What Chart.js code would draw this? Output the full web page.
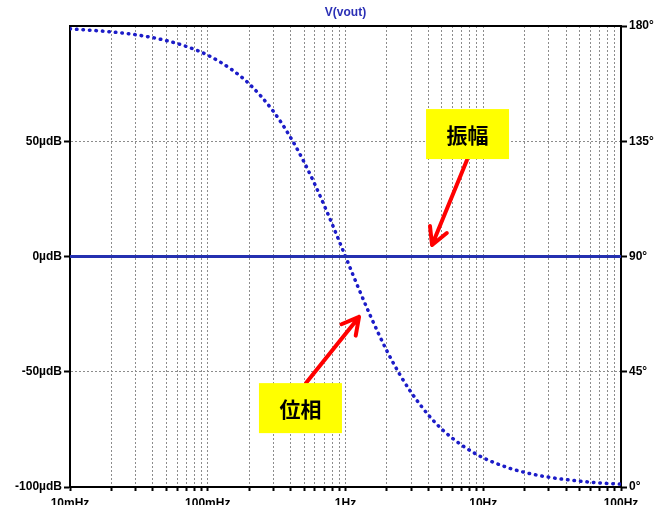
<!DOCTYPE html>
<html>
<head>
<meta charset="utf-8">
<script src="https://cdn.jsdelivr.net/npm/chart.js@4"></script>
<style>
  html, body { margin: 0; padding: 0; background: #fff; overflow: hidden; }
  #wrap { width: 670px; height: 520px; }
</style>
</head>
<body>
<div id="wrap"><canvas id="bode"></canvas></div>
<script>
// Data

const freqs = [0.01, 0.02, 0.03, 0.05, 0.07, 0.1, 0.15, 0.2, 0.3, 0.4, 0.5, 0.6, 0.7, 0.8, 0.9,
               1, 1.2, 1.5, 2, 2.5, 3, 4, 5, 7, 10, 15, 20, 30, 50, 70, 100];
const phaseDeg = [178.9, 177.7, 176.6, 174.3, 172.0, 168.6, 162.9, 157.4, 146.6, 136.4, 126.9, 118.1, 110.0, 102.7, 96.0,
                  90.0, 79.6, 67.4, 53.1, 43.6, 36.9, 28.1, 22.6, 16.3, 11.4, 7.6, 5.7, 3.8, 2.3, 1.6, 1.1];
const ampFreqs = [0.01, 100];
const ampValues = [0, 0];

const decades = [0.01, 0.1, 1, 10, 100];
const decadeLabels = ['10mHz', '100mHz', '1Hz', '10Hz', '100Hz'];
const ampTicks = [-100, -50, 0, 50];
const phaseTicks = [0, 45, 90, 135, 180];

// Annotation boxes (frequency, degrees)
const notes = [
    { text: '振幅', box: [7.69, 137.8], from: [7.62, 127.7], to: [4.25, 94.5] },
    { text: '位相', box: [0.471, 30.8], from: [0.517, 40.6], to: [1.254, 66.4] }
];

Chart.defaults.font.family = '"Liberation Sans", Arial, sans-serif';
Chart.defaults.font.size = 12;
Chart.defaults.font.weight = 'bold';
Chart.defaults.color = '#000';

const xTickValues = [];
decades.forEach((d, i) => {
    if (i === decades.length - 1) { xTickValues.push(d); return; }
    for (let m = 1; m < 10; m++) xTickValues.push(+(d * m).toPrecision(3));
});

const frame = {
    id: 'frame',
    afterDatasetsDraw(chart) {
        const { ctx, chartArea: a, scales } = chart;
        ctx.save();
        ctx.strokeStyle = '#000';
        ctx.lineWidth = 2;
        ctx.beginPath();
        ctx.moveTo(a.left - 1, a.top);
        ctx.lineTo(a.right + 1, a.top);
        ctx.stroke();

        ctx.fillStyle = '#2a2fb5';
        ctx.font = 'bold 12px "Liberation Sans", Arial, sans-serif';
        ctx.textAlign = 'center';
        ctx.textBaseline = 'middle';
        ctx.fillText('V(vout)', (a.left + a.right) / 2, 13);

        const x = scales.x, y = scales.y2;
        notes.forEach(n => {
            const x0 = x.getPixelForValue(n.from[0]), y0 = y.getPixelForValue(n.from[1]);
            const x1 = x.getPixelForValue(n.to[0]), y1 = y.getPixelForValue(n.to[1]);
            const ang = Math.atan2(y1 - y0, x1 - x0);
            ctx.strokeStyle = '#ff0000';
            ctx.lineWidth = 4;
            ctx.lineCap = 'round';
            ctx.beginPath();
            ctx.moveTo(x0, y0);
            ctx.lineTo(x1, y1);
            [0.5, -0.5].forEach(da => {
                ctx.moveTo(x1, y1);
                ctx.lineTo(x1 - 19 * Math.cos(ang + da), y1 - 19 * Math.sin(ang + da));
            });
            ctx.stroke();

            const bx = x.getPixelForValue(n.box[0]), by = y.getPixelForValue(n.box[1]);
            ctx.fillStyle = '#ffff00';
            ctx.fillRect(bx - 41.5, by - 25, 83, 50);
            ctx.fillStyle = '#000';
            ctx.font = 'bold 21px "Noto Sans CJK JP", sans-serif';
            ctx.fillText(n.text, bx, by + 1);
        });
        ctx.restore();
    }
};

const bodeCanvas = document.getElementById('bode');

let bodeChart = new Chart(bodeCanvas, {
    type: 'line',
    data: {
        datasets: [{
            label: 'amplitude',
            data: ampFreqs.map((f, i) => ({ x: f, y: ampValues[i] })),
            yAxisID: 'y',
            borderColor: '#2430b0',
            borderWidth: 3,
            pointRadius: 0
        }, {
            label: 'phase',
            data: freqs.map((f, i) => ({ x: f, y: phaseDeg[i] })),
            yAxisID: 'y2',
            borderColor: '#1c1cc8',
            borderWidth: 3.5,
            borderDash: [0.5, 6],
            borderCapStyle: 'round',
            cubicInterpolationMode: 'monotone',
            pointRadius: 0
        }]
    },
    options: {
        responsive: true,
        maintainAspectRatio: false,
        animation: false,
        layout: { padding: { top: 26, left: 0, right: 0, bottom: 0 } },
        plugins: {
            legend: { display: false },
            title: { display: false },
            tooltip: { enabled: false }
        },
        scales: {
            x: {
                type: 'logarithmic',
                min: 0.01,
                max: 100,
                afterBuildTicks: axis => { axis.ticks = xTickValues.map(v => ({ value: v })); },
                afterFit: axis => { axis.height = 33; },
                ticks: {
                    autoSkip: false,
                    maxRotation: 0,
                    padding: 5,
                    callback: v => {
                        const i = decades.findIndex(d => Math.abs(d - v) < d * 1e-6);
                        return i >= 0 ? decadeLabels[i] : '';
                    }
                },
                grid: {
                    color: '#8c8c8c',
                    tickColor: '#000',
                    tickLength: 4,
                    tickWidth: 2
                },
                border: { color: '#000', width: 2, dash: [2, 2] }
            },
            y: {
                position: 'left',
                min: -100,
                max: 100,
                afterBuildTicks: axis => { axis.ticks = ampTicks.map(v => ({ value: v })); },
                afterFit: axis => { axis.width = 70; },
                ticks: { padding: 2, callback: v => v + 'µdB' },
                grid: {
                    color: '#8c8c8c',
                    tickColor: '#000',
                    tickLength: 6,
                    tickWidth: 2
                },
                border: { color: '#000', width: 2, dash: [2, 2] }
            },
            y2: {
                position: 'right',
                min: 0,
                max: 180,
                afterBuildTicks: axis => { axis.ticks = phaseTicks.map(v => ({ value: v })); },
                afterFit: axis => { axis.width = 49; },
                ticks: { padding: 2, callback: v => v + '°' },
                grid: {
                    drawOnChartArea: false,
                    tickColor: '#000',
                    tickLength: 6,
                    tickWidth: 2
                },
                border: { color: '#000', width: 2 }
            }
        }
    },
    plugins: [frame]
});
</script>
</body>
</html>
